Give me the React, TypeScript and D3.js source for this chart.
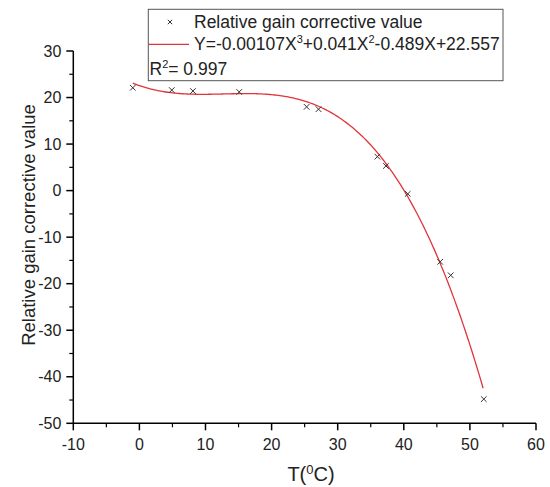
import React from "react";
import * as d3 from "d3";

const tempValues = [-1, 4.9, 8.1, 15.1, 25.3, 27.1, 36.0, 37.3, 40.6, 45.5, 47.1, 52.1];
const gainValues = [22.1, 21.6, 21.4, 21.2, 18.0, 17.5, 7.3, 5.3, -0.7, -15.3, -18.2, -44.8];
const fitCoefficients = [-0.00107, 0.041, -0.489, 22.557]; // X^3, X^2, X, const
const fitRange = [-1, 52];
const xTicks = [-10, 0, 10, 20, 30, 40, 50, 60];
const yTicks = [30, 20, 10, 0, -10, -20, -30, -40, -50];

const W = 550;
const H = 487;
const M = { left: 73.3, right: 536, top: 51, bottom: 423.3 };

export default function App() {
  const x = d3.scaleLinear().domain([-10, 60]).range([M.left, M.right]);
  const y = d3.scaleLinear().domain([-50, 30]).range([M.bottom, M.top]);
  const poly = (t: number) =>
    fitCoefficients[0] * t * t * t + fitCoefficients[1] * t * t + fitCoefficients[2] * t + fitCoefficients[3];
  const fitPts: [number, number][] = d3
    .range(fitRange[0], fitRange[1] + 0.001, 0.25)
    .map((t) => [t, poly(t)]);
  const line = d3
    .line<[number, number]>()
    .x((d) => x(d[0]))
    .y((d) => y(d[1]));
  const xMinor = d3.range(-5, 60, 10);
  const yMinor = d3.range(-45, 30, 10);
  const font = "Arial, 'Liberation Sans', sans-serif";
  const red = "#e0353a";
  const mark = (cx: number, cy: number, s = 3, key?: any) => (
    <g key={key} stroke="#333" strokeWidth={1}>
      <line x1={cx - s} y1={cy - s} x2={cx + s} y2={cy + s} />
      <line x1={cx - s} y1={cy + s} x2={cx + s} y2={cy - s} />
    </g>
  );
  return (
    <svg width={W} height={H} style={{ position: "absolute", left: 0, top: 0, background: "#fff" }} fontFamily={font}>
      <rect x={0} y={0} width={W} height={H} fill="#fff" />
      {/* axes */}
      <line x1={M.left} y1={M.top} x2={M.left} y2={M.bottom} stroke="#000" strokeWidth={1.5} />
      <line x1={M.left} y1={M.bottom} x2={M.right} y2={M.bottom} stroke="#000" strokeWidth={1.5} />
      {yTicks.map((t) => (
        <g key={"yt" + t}>
          <line x1={M.left - 7} x2={M.left} y1={y(t)} y2={y(t)} stroke="#000" strokeWidth={1.5} />
          <text x={M.left - 12} y={y(t)} dy="0.35em" textAnchor="end" fontSize={16} fill="#222">
            {t}
          </text>
        </g>
      ))}
      {yMinor.map((t) => (
        <line key={"ym" + t} x1={M.left - 4} x2={M.left} y1={y(t)} y2={y(t)} stroke="#000" strokeWidth={1.2} />
      ))}
      {xTicks.map((t) => (
        <g key={"xt" + t}>
          <line x1={x(t)} x2={x(t)} y1={M.bottom} y2={M.bottom + 7} stroke="#000" strokeWidth={1.5} />
          <text x={x(t)} y={M.bottom + 27} textAnchor="middle" fontSize={16} fill="#222">
            {t}
          </text>
        </g>
      ))}
      {xMinor.map((t) => (
        <line key={"xm" + t} x1={x(t)} x2={x(t)} y1={M.bottom} y2={M.bottom + 4} stroke="#000" strokeWidth={1.2} />
      ))}
      {/* axis titles */}
      <text x={311} y={481} textAnchor="middle" fontSize={20} fill="#222">
        T(<tspan dy={-7} fontSize={13}>0</tspan>
        <tspan dy={7}>C)</tspan>
      </text>
      <text
        transform={`translate(35, 225) rotate(-90)`}
        textAnchor="middle"
        fontSize={18.5}
        fill="#222"
      >
        Relative gain corrective value
      </text>
      {/* fit curve */}
      <path d={line(fitPts) || ""} fill="none" stroke={red} strokeWidth={1.3} />
      {/* points */}
      {tempValues.map((t, i) => mark(x(t), y(gainValues[i]), 2.8, "p" + i))}
      {/* legend */}
      <rect x={148.3} y={9.3} width={354.7} height={71.4} fill="#fff" stroke="#555" strokeWidth={1} />
      {mark(170, 22, 2.2)}
      <text x={194} y={27.5} fontSize={17.5} fill="#222">
        Relative gain corrective value
      </text>
      <line x1={148.5} x2={189} y1={44.3} y2={44.3} stroke={red} strokeWidth={1.2} />
      <text x={194} y={50} fontSize={17.5} fill="#222">
        Y=-0.00107X<tspan dy={-7} fontSize={11}>3</tspan>
        <tspan dy={7}>+0.041X</tspan>
        <tspan dy={-7} fontSize={11}>2</tspan>
        <tspan dy={7}>-0.489X+22.557</tspan>
      </text>
      <text x={149.5} y={75} fontSize={17.5} fill="#222">
        R<tspan dy={-7} fontSize={11}>2</tspan>
        <tspan dy={7}>= 0.997</tspan>
      </text>
    </svg>
  );
}
